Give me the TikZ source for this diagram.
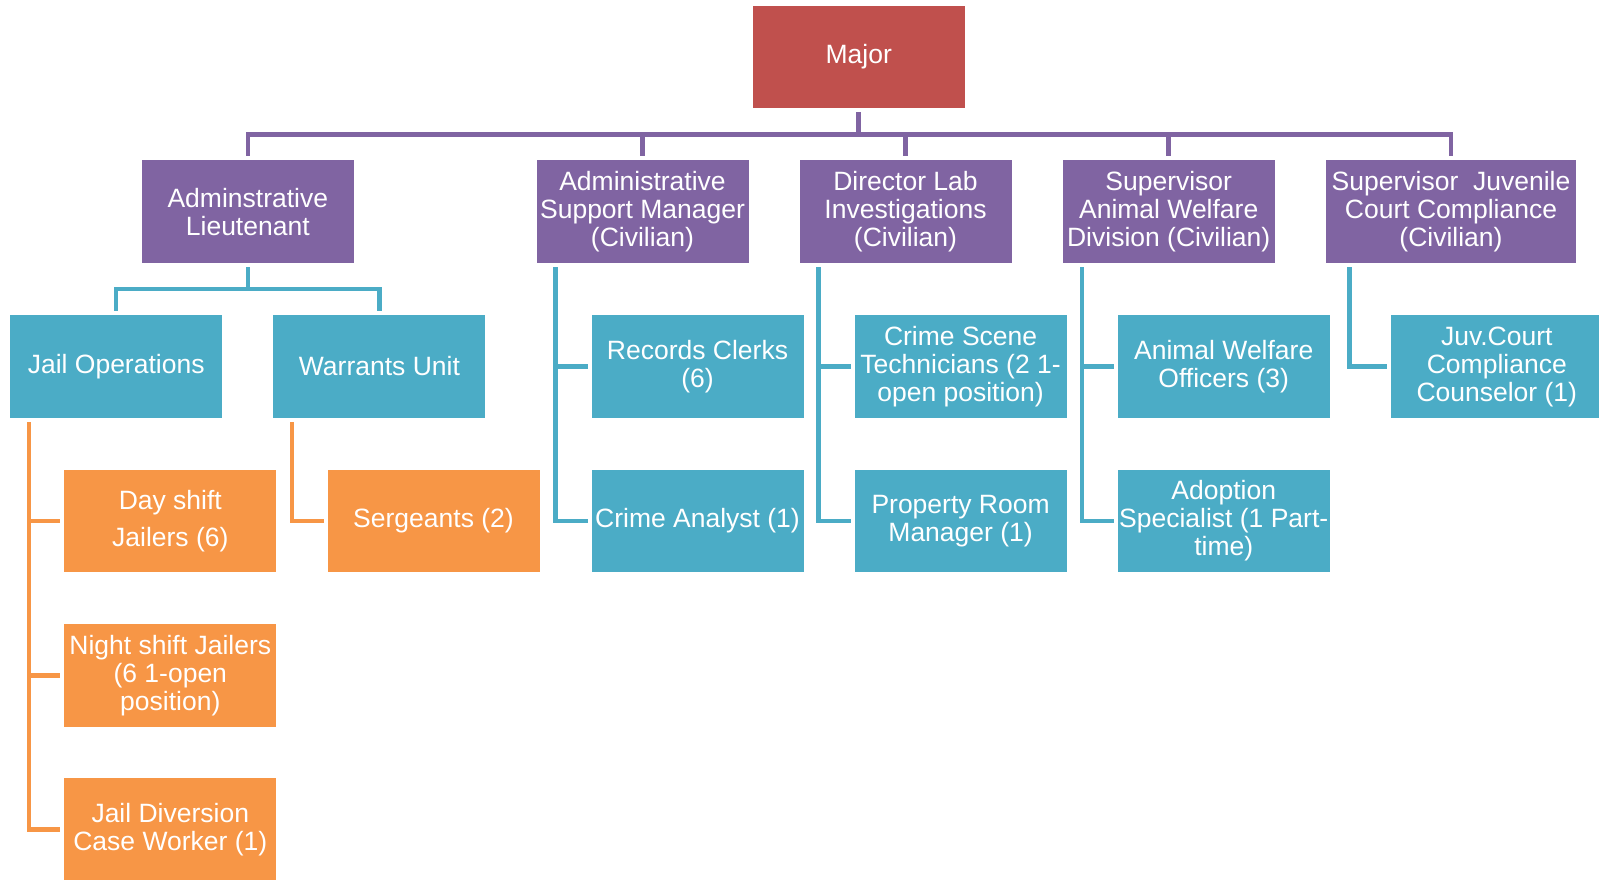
\documentclass[tikz,border=0pt]{standalone}
\usepackage{fontspec}
\setmainfont{Liberation Sans}
\definecolor{cred}{HTML}{C0504D}
\definecolor{cpur}{HTML}{8064A2}
\definecolor{cteal}{HTML}{4BACC6}
\definecolor{corange}{HTML}{F79646}
\begin{document}
\begin{tikzpicture}[x=1pt,y=-1pt,
  box/.style={minimum width=212pt,minimum height=102.5pt,inner sep=0pt,align=center,text=white,
    font=\fontsize{26.5}{28}\selectfont},
  redbox/.style={box,fill=cred},
  purbox/.style={box,fill=cpur},
  tealbox/.style={box,fill=cteal},
  orabox/.style={box,fill=corange},
  conn/.style={line width=4.5pt,line join=miter,line cap=rect},
  pl/.style={conn,draw=cpur},
  tl/.style={conn,draw=cteal},
  ol/.style={conn,draw=corange}]
\useasboundingbox (0,0) rectangle (1599,880);
% nodes
\node[redbox] (major) at (858.7,57.1) {Major};
\node[purbox] (lt) at (247.8,211.7) {Adminstrative\\Lieutenant};
\node[purbox] (asm) at (642.5,211.7) {Administrative\\Support Manager\\(Civilian)};
\node[purbox] (dir) at (905.5,211.7) {Director Lab\\Investigations\\(Civilian)};
\node[purbox] (saw) at (1168.7,211.7) {Supervisor\\Animal Welfare\\Division (Civilian)};
\node[purbox,minimum width=250pt] (sjc) at (1451,211.7) {Supervisor\ \ Juvenile\\Court Compliance\\(Civilian)};
\node[tealbox] (jail) at (116.2,366.5) {Jail Operations};
\node[tealbox] (warr) at (379.4,366.5) {Warrants Unit};
\node[tealbox] (rc) at (697.5,366.5) {Records Clerks\\(6)};
\node[tealbox] (cst) at (960.6,366.5) {Crime Scene\\Technicians (2 1-\\open position)};
\node[tealbox] (awo) at (1223.7,366.5) {Animal Welfare\\Officers (3)};
\node[tealbox] (juv) at (1496.8,366.5) {Juv.Court\\Compliance\\Counselor (1)};
\node[orabox] (day) at (170.3,521) {Day shift\\[9pt]Jailers (6)};
\node[orabox] (serg) at (433.5,521) {Sergeants (2)};
\node[tealbox] (ca) at (697.5,521) {Crime Analyst (1)};
\node[tealbox] (prm) at (960.6,521) {Property Room\\Manager (1)};
\node[tealbox] (ads) at (1223.7,521) {Adoption\\Specialist (1 Part-\\time)};
\node[orabox] (night) at (170.3,675.3) {Night shift Jailers\\(6 1-open\\position)};
\node[orabox] (div) at (170.3,829.5) {Jail Diversion\\Case Worker (1)};
% bus coordinates
\coordinate (pbus) at (0,134.5);
\coordinate (tbus) at (0,289);
% purple connectors
\draw[pl] ([yshift=-6pt]major.south) -- (major.south |- pbus);
\draw[pl] ([yshift=6pt]lt.north) -- (lt.north |- pbus) -- (sjc.north |- pbus) -- ([yshift=6pt]sjc.north);
\foreach \n in {asm,dir,saw}{
  \draw[pl] (\n.north |- pbus) -- ([yshift=6pt]\n.north);
}
% teal under lieutenant
\draw[tl] ([yshift=-6pt]lt.south) -- (lt.south |- tbus);
\draw[tl] ([yshift=6pt]jail.north) -- (jail.north |- tbus) -- (warr.north |- tbus) -- ([yshift=6pt]warr.north);
% side branches (teal)
\draw[tl] ([xshift=19.4pt,yshift=-6pt]asm.south west) |- ([xshift=-6pt]ca.west);
\draw[tl] ([xshift=19.4pt,yshift=-6pt]asm.south west) |- ([xshift=-6pt]rc.west);
\draw[tl] ([xshift=19.4pt,yshift=-6pt]dir.south west) |- ([xshift=-6pt]prm.west);
\draw[tl] ([xshift=19.4pt,yshift=-6pt]dir.south west) |- ([xshift=-6pt]cst.west);
\draw[tl] ([xshift=19.4pt,yshift=-6pt]saw.south west) |- ([xshift=-6pt]ads.west);
\draw[tl] ([xshift=19.4pt,yshift=-6pt]saw.south west) |- ([xshift=-6pt]awo.west);
\draw[tl] ([xshift=23.5pt,yshift=-6pt]sjc.south west) |- ([xshift=-6pt]juv.west);
% orange branches
\draw[ol] ([xshift=18.8pt,yshift=-6pt]jail.south west) |- ([xshift=-6pt]div.west);
\draw[ol] ([xshift=18.8pt,yshift=-6pt]jail.south west) |- ([xshift=-6pt]night.west);
\draw[ol] ([xshift=18.8pt,yshift=-6pt]jail.south west) |- ([xshift=-6pt]day.west);
\draw[ol] ([xshift=18.8pt,yshift=-6pt]warr.south west) |- ([xshift=-6pt]serg.west);
\end{tikzpicture}
\end{document}
